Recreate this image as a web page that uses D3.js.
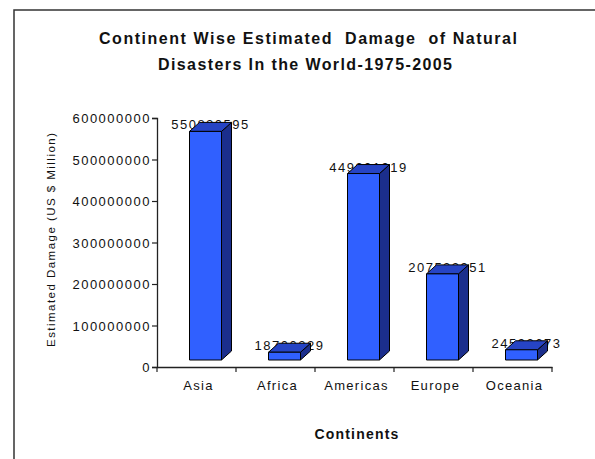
<!DOCTYPE html>
<html>
<head>
<meta charset="utf-8">
<script src="https://cdn.jsdelivr.net/npm/d3@7/dist/d3.min.js"></script>
<style>
  html, body { margin: 0; padding: 0; background: #fff; }
  svg { display: block; font-family: "Liberation Sans", Arial, sans-serif; }
</style>
</head>
<body>
<svg id="chart" width="595" height="459"></svg>
<script>
// Estimated damage by continent, 1975-2005 (US $ Million)
const continents = ["Asia", "Africa", "Americas", "Europe", "Oceania"];
const damage = [550820595, 18700229, 449301919, 207522951, 24593673];
const yTicks = [0, 100000000, 200000000, 300000000, 400000000, 500000000, 600000000];
const titleLines = ["Continent Wise Estimated  Damage  of Natural", "Disasters In the World-1975-2005"];
const yTitle = "Estimated Damage (US $ Million)";
const xTitle = "Continents";

const svg = d3.select("#chart");

// outer frame
svg.append("rect")
  .attr("x", 14).attr("y", 10).attr("width", 640).attr("height", 520)
  .attr("fill", "#fff").attr("stroke", "#333").attr("stroke-width", 1.5);

const plot = { left: 157, right: 552, top: 118, bottom: 367 };
const y = d3.scaleLinear().domain([0, 600000000]).range([plot.bottom, plot.top]);
const x = d3.scaleBand().domain(continents).range([plot.left, plot.right]);

// 3D projection of the columns
const depthX = 10, depthY = -9;     // side / top face offset
const shiftX = 9, shiftY = -7;      // front face offset from the axis plane
const barW = 32;

// title
const title = svg.append("g").attr("font-weight", "bold").attr("font-size", 16).attr("fill", "#111");
title.append("text").attr("x", 308).attr("y", 44).attr("text-anchor", "middle")
  .style("white-space", "pre")
  .attr("textLength", 418).attr("lengthAdjust", "spacing").text(titleLines[0]);
title.append("text").attr("x", 305).attr("y", 70).attr("text-anchor", "middle")
  .attr("textLength", 294).attr("lengthAdjust", "spacing").text(titleLines[1]);

// y axis
const yAxis = d3.axisLeft(y).tickValues(yTicks).tickSize(5).tickFormat(d3.format("d"));
const gy = svg.append("g").attr("transform", `translate(${plot.left},0)`).call(yAxis);
gy.select(".domain").attr("stroke", "#222").attr("stroke-width", 1.3);
gy.selectAll(".tick line").attr("stroke", "#222").attr("stroke-width", 1.2);
gy.selectAll(".tick text")
  .attr("font-family", "Liberation Sans, Arial, sans-serif")
  .attr("font-size", 13).attr("fill", "#111")
  .attr("letter-spacing", "1.5px")
  .attr("x", -6).attr("dy", "0.36em");

// x axis
const xAxis = d3.axisBottom(x).tickSize(0).tickFormat("");
const gx = svg.append("g").attr("transform", `translate(0,${plot.bottom})`).call(xAxis);
gx.select(".domain").attr("stroke", "#222").attr("stroke-width", 1.3);
gx.selectAll(".tick").remove();
const boundaries = continents.map(c => x(c)).concat([x(continents[continents.length - 1]) + x.bandwidth()]);
gx.selectAll("line.sep").data(boundaries).enter().append("line")
  .attr("class", "sep")
  .attr("x1", d => d).attr("x2", d => d).attr("y1", 0).attr("y2", 5)
  .attr("stroke", "#222").attr("stroke-width", 1.2);

// category labels
svg.append("g").selectAll("text").data(continents).enter().append("text")
  .attr("x", d => x(d) + x.bandwidth() / 2 + 2)
  .attr("y", 390)
  .attr("text-anchor", "middle")
  .attr("font-size", 13).attr("letter-spacing", "1.3px").attr("fill", "#111")
  .text(d => d);

// axis titles
svg.append("text")
  .attr("transform", `translate(55,240) rotate(-90)`)
  .attr("text-anchor", "middle")
  .attr("font-size", 11.5).attr("fill", "#111")
  .attr("textLength", 214).attr("lengthAdjust", "spacing")
  .text(yTitle);
svg.append("text")
  .attr("x", 357).attr("y", 439).attr("text-anchor", "middle")
  .attr("font-size", 14).attr("font-weight", "bold").attr("letter-spacing", "1.2px").attr("fill", "#111")
  .text(xTitle);

const data = continents.map((c, i) => ({ c, v: damage[i] }));
const fx = d => x(d.c) + x.bandwidth() / 2 + shiftX - barW / 2;
const fTop = d => y(d.v) + shiftY;
const fBot = () => y(0) + shiftY;

// value labels sit behind the columns
svg.append("g").selectAll("text").data(data).enter().append("text")
  .attr("x", d => fx(d) + barW / 2 + depthX / 2)
  .attr("y", d => fTop(d) - 2)
  .attr("text-anchor", "middle")
  .attr("font-size", 13).attr("letter-spacing", "1.5px").attr("fill", "#111")
  .text(d => d.v);

// columns
const bars = svg.append("g").selectAll("g").data(data).enter().append("g")
  .attr("stroke", "#000").attr("stroke-width", 1).attr("stroke-linejoin", "round");
bars.append("path") // side face
  .attr("fill", "#1b2e8c")
  .attr("d", d => {
    const x1 = fx(d) + barW, t = fTop(d), b = fBot();
    return `M${x1},${t}L${x1 + depthX},${t + depthY}L${x1 + depthX},${b + depthY}L${x1},${b}Z`;
  });
bars.append("path") // top face
  .attr("fill", "#2644c4")
  .attr("d", d => {
    const x0 = fx(d), t = fTop(d);
    return `M${x0},${t}L${x0 + depthX},${t + depthY}L${x0 + barW + depthX},${t + depthY}L${x0 + barW},${t}Z`;
  });
bars.append("rect") // front face
  .attr("fill", "#3060ff")
  .attr("x", d => fx(d)).attr("y", d => fTop(d))
  .attr("width", barW).attr("height", d => fBot() - fTop(d));
</script>
</body>
</html>
